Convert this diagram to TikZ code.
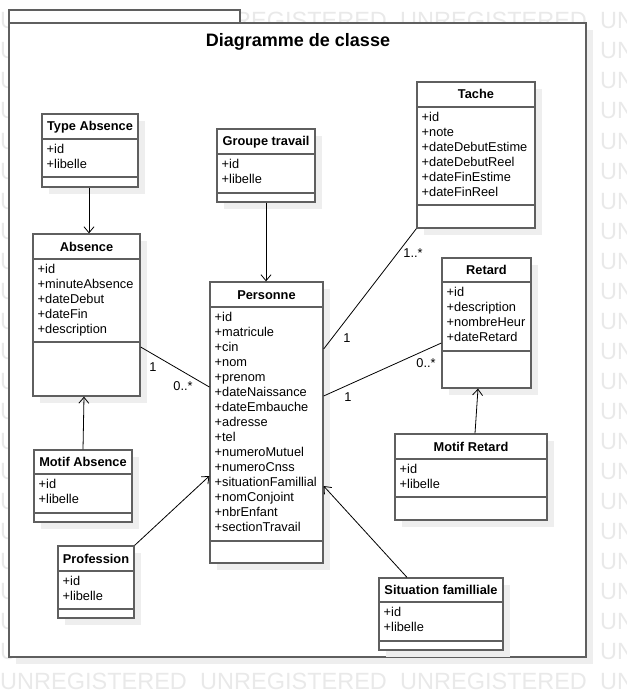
\documentclass[tikz,border=0pt]{standalone}
\usepackage{fontspec}
\setmainfont{Liberation Sans}
\usetikzlibrary{arrows.meta,fit,calc}
\definecolor{boxline}{RGB}{95,95,95}
\definecolor{shadowc}{RGB}{238,238,238}
\definecolor{wmark}{RGB}{233,233,233}
\tikzset{
  clsbox/.style={draw=boxline, line width=1.3pt, fill=white, inner sep=0pt},
  sepline/.style={draw=boxline, line width=1.3pt},
  hdrtext/.style={font=\bfseries\fontsize{12.8}{15}\selectfont, inner sep=0pt, anchor=base},
  attrtext/.style={font=\fontsize{12.8}{15}\selectfont, inner sep=0pt, anchor=base west},
  lbl/.style={font=\fontsize{12.8}{15}\selectfont, inner sep=0pt, anchor=base},
  assoc/.style={draw=black, line width=0.8pt},
  navarrow/.style={assoc, -{Straight Barb[length=6pt,width=10pt]}},
  wmtext/.style={font=\fontsize{23.5}{26}\selectfont, text=wmark, inner sep=0pt, anchor=base west},
}
% #1 name, #2 x1, #3 y1, #4 x2, #5 y2, #6 header line, #7 attribute line, #8 title, #9 attributes
\newcommand{\umlcls}[9]{%
  \fill[shadowc] ({#2+7},{#3+7}) rectangle ({#4+7},{#5+7});
  \node[clsbox, fit={(#2,#3) (#4,#5)}] (#1) {};
  \draw[sepline] (#2,#6) -- (#4,#6);
  \draw[sepline] (#2,#7) -- (#4,#7);
  \node[hdrtext] (#1-t) at ({(#2+#4)/2},{(#3+#6)/2+4.5}) {#8};
  \foreach \a [count=\i] in {#9}
    \node[attrtext] (#1-a\i) at ({#2+4.5},{#6+14.8+15*(\i-1)}) {\a};
}
\begin{document}
\begin{tikzpicture}[x=1pt,y=-1pt]
\useasboundingbox (0,0) rectangle (626,698);
% watermark (only the parts that show)
\foreach \k in {0,21,22}
  \foreach \j in {0,1,2}
    \node[wmtext] (wm-\k-\j) at ({200*\j},{29+30*\k}) {UNREGISTERED};
\foreach \k in {0,21,22}
  \node[wmtext] (wm-\k-3) at (600,{29+30*\k}) {UN};
\foreach \k in {1,...,20}{
  \node[wmtext] (wl-\k) at (0,{29+30*\k}) {U};
  \node[wmtext] (wr-\k) at (600,{29+30*\k}) {UN};
}
% package frame
\fill[shadowc] (16,30) rectangle (593,664);
\node[clsbox, fit={(9,10) (240,23)}] (pkgtab) {};
\node[clsbox, fit={(9,23) (586,657)}] (pkg) {};
\node[inner sep=0pt, anchor=base, font=\bfseries\fontsize{18}{21}\selectfont] (title) at (298,46.5) {Diagramme de classe};
% classes
\umlcls{ta}{42}{114}{138}{187}{139}{177}{Type Absence}{+id,+libelle}
\umlcls{abs}{33}{234}{140}{396}{259}{342}{Absence}{+id,+minuteAbsence,+dateDebut,+dateFin,+description}
\umlcls{gt}{217}{129}{315}{202}{154}{193}{Groupe travail}{+id,+libelle}
\umlcls{pers}{210}{282}{323}{563}{307}{541}{Personne}{+id,+matricule,+cin,+nom,+prenom,+dateNaissance,+dateEmbauche,+adresse,+tel,+numeroMutuel,+numeroCnss,+situationFamillial,+nomConjoint,+nbrEnfant,+sectionTravail}
\umlcls{tache}{417}{82}{535}{228}{107}{205}{Tache}{+id,+note,+dateDebutEstime,+dateDebutReel,+dateFinEstime,+dateFinReel}
\umlcls{ret}{442}{258}{531}{388}{282}{351}{Retard}{+id,+description,+nombreHeur,+dateRetard}
\umlcls{mr}{395}{434}{547}{520}{459}{497}{Motif Retard}{+id,+libelle}
\umlcls{ma}{34}{450}{132}{522}{474}{513}{Motif Absence}{+id,+libelle}
\umlcls{prof}{58}{546}{134}{618}{571}{609}{Profession}{+id,+libelle}
\umlcls{sf}{379}{578}{503}{650}{602}{641}{Situation familliale}{+id,+libelle}
% navigable associations
\draw[navarrow] (89,0 |- ta.south) -- (89,0 |- abs.north);
\draw[navarrow] (gt.south) -- (gt.south |- pers.north);
\draw[navarrow] (83,0 |- ma.north) -- (84,0 |- abs.south);
\draw[navarrow] (475,0 |- mr.north) -- (478,0 |- ret.south);
\draw[navarrow] (prof.north east) -- (pers.west |- 0,476);
\draw[navarrow] (407,0 |- sf.north) -- (pers.east |- 0,486);
% plain associations
\draw[assoc] (abs.east |- 0,347) -- (pers.west |- 0,387);
\draw[assoc] (pers.east |- 0,349) -- (tache.south west);
\draw[assoc] (pers.east |- 0,396) -- (ret.west |- 0,343);
% multiplicities
\node[lbl] (m1) at (153,371.5) {1};
\node[lbl] (m2) at (183,390.5) {0..*};
\node[lbl] (m3) at (347,342.5) {1};
\node[lbl] (m4) at (413,257.5) {1..*};
\node[lbl] (m5) at (348,401.5) {1};
\node[lbl] (m6) at (426,367.5) {0..*};
\end{tikzpicture}
\end{document}
